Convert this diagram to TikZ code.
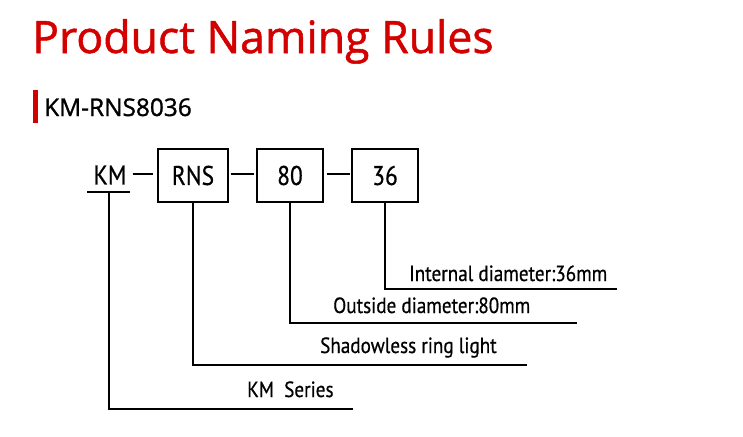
\documentclass[tikz,border=0pt]{standalone}
\usepackage{fontspec}
\setmainfont{PT Sans}
\newfontfamily\headfont[FakeBold=1.2]{Open Sans}
\newfontfamily\narrowfont[FakeStretch=0.87, FakeBold=0.6]{PT Sans}
\usepackage{tikz}
\definecolor{titlered}{RGB}{212,0,0}
\tikzstyle{edge}=[draw=black, line width=1.1pt]
\tikzstyle{codebox}=[draw=black, line width=1.2pt, minimum width=66pt, minimum height=53pt, inner sep=0pt, font=\narrowfont\fontsize{27}{30}\selectfont]
\tikzstyle{label}=[anchor=base west, inner sep=0pt, font=\narrowfont\fontsize{22}{24}\selectfont]

\begin{document}
\begin{tikzpicture}[x=1pt, y=-1pt]
			\useasboundingbox (0,0) rectangle (743,436);
			% heading
			\node [anchor=base west, inner sep=0pt, text=titlered, font=\headfont\fontsize{44.6}{48}\selectfont] (title) at (32,53) {Product Naming Rules};
			\fill [titlered] (33,90) rectangle (38,123);
			\node [anchor=base west, inner sep=0pt, font=\headfont\fontsize{24.4}{26}\selectfont] (model) at (44,116) {KM-RNS8036};
			% code parts
			\node [inner sep=3pt, font=\narrowfont\fontsize{27}{30}\selectfont] (km) at (110,175) {KM};
			\node [style=codebox, minimum width=70pt] (rns) at (193,175.5) {RNS};
			\node [style=codebox] (d80) at (290,175.5) {80};
			\node [style=codebox] (d36) at (385,175.5) {36};
			\coordinate (ul1) at (87,192);
			\coordinate (ul2) at (130,192);
			\coordinate (kmstem) at (109,192);
			% meanings
			\node [style=label] (l36) at (409,281) {Internal diameter:36mm};
			\node [style=label] (l80) at (333,313) {Outside diameter:80mm};
			\node [style=label] (lrns) at (320,353) {Shadowless ring light};
			\node [style=label] (lkm) at (247,397) {KM~ Series};
			\coordinate (e36) at (617,289);
			\coordinate (e80) at (577,323);
			\coordinate (erns) at (527,365);
			\coordinate (ekm) at (353,409);
			% links
			\draw [style=edge, shorten <=3pt, shorten >=4pt] (km.east |- 0,174) to (rns.west |- 0,174);
			\draw [style=edge, shorten <=2pt, shorten >=2pt] (rns.east |- 0,174) to (d80.west |- 0,174);
			\draw [style=edge, shorten <=3pt, shorten >=1pt] (d80.east |- 0,174) to (d36.west |- 0,174);
			\draw [style=edge] (ul1) to (ul2);
			\draw [style=edge] (d36.south) |- (e36);
			\draw [style=edge] (d80.south) |- (e80);
			\draw [style=edge] (rns.south) |- (erns);
			\draw [style=edge] (kmstem) |- (ekm);
\end{tikzpicture}
\end{document}
